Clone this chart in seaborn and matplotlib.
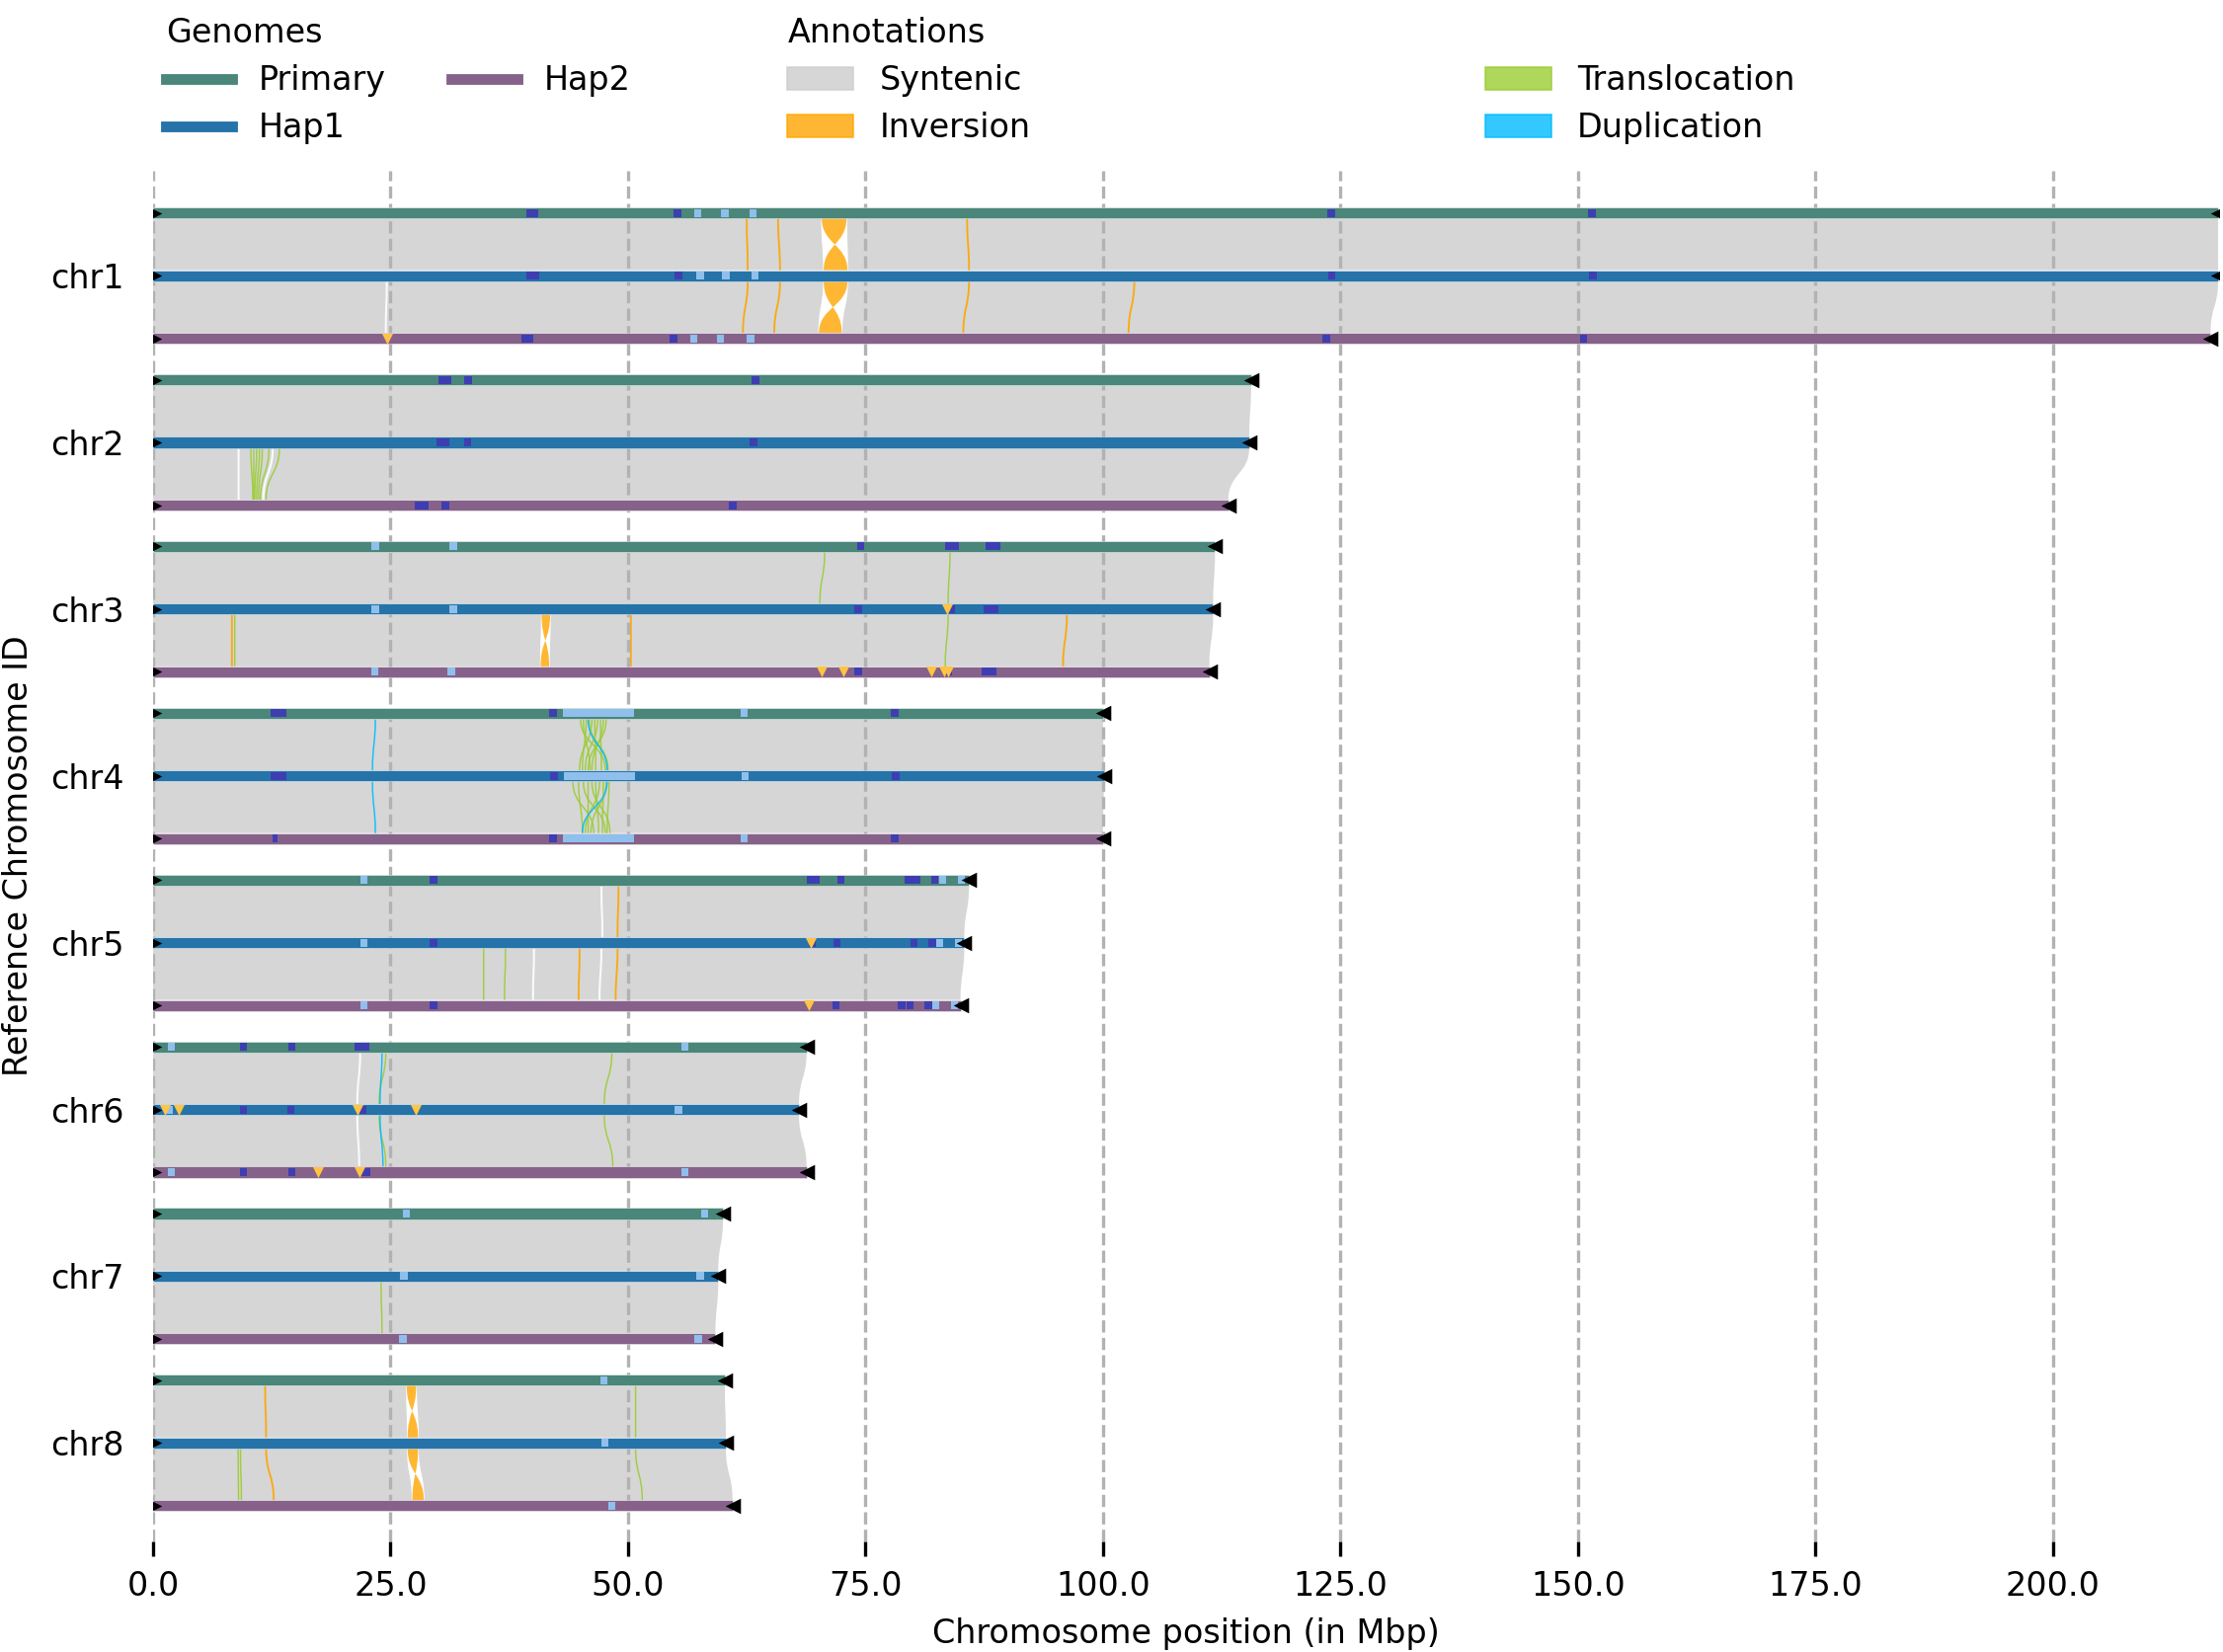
import matplotlib
matplotlib.use('Agg')
import matplotlib.pyplot as plt
import seaborn as sns
from matplotlib.path import Path
from matplotlib.patches import PathPatch, Patch
from matplotlib.lines import Line2D

# ---------------- data ----------------
CHROMS = ['chr1', 'chr2', 'chr3', 'chr4', 'chr5', 'chr6', 'chr7', 'chr8']
GENOMES = ['Primary', 'Hap1', 'Hap2']
GENOME_COLORS = ['#4A867A', '#2573A8', '#86628A']

# chromosome lengths (Mbp)
LEN_PRIMARY = [217.4, 115.6, 111.8, 100.0, 85.9, 68.8, 60.0, 60.2]
LEN_HAP1 = [217.4, 115.4, 111.6, 100.1, 85.4, 68.0, 59.5, 60.3]
LEN_HAP2 = [216.6, 113.2, 111.2, 100.0, 85.0, 68.8, 59.2, 61.0]

ANN_LABELS = ['Syntenic', 'Inversion', 'Translocation', 'Duplication']
ANN_COLORS = ['#CCCCCC', '#FFA500', '#9ACD32', '#00BBFF']

# large inversions: (chrom, pair, top_start, top_end, bottom_start, bottom_end)
# pair 0 = Primary->Hap1, pair 1 = Hap1->Hap2
INVERSIONS = [
    ('chr1', 0, 70.4, 73.0, 70.6, 73.1),
    ('chr1', 1, 70.6, 73.1, 70.1, 72.5),
    ('chr3', 1, 40.9, 41.8, 40.8, 41.7),
    ('chr8', 0, 26.7, 27.7, 26.8, 27.9),
    ('chr8', 1, 26.8, 27.9, 27.3, 28.5),
]
# small inversions (thin): (chrom, pair, top_pos, bottom_pos)
SMALL_INVERSIONS = [
    ('chr1', 0, 62.5, 62.6), ('chr1', 0, 65.8, 66.0), ('chr1', 0, 85.7, 85.9),
    ('chr1', 1, 62.6, 62.1), ('chr1', 1, 66.0, 65.4), ('chr1', 1, 85.9, 85.3),
    ('chr1', 1, 103.3, 102.7),
    ('chr3', 1, 8.3, 8.3), ('chr3', 1, 50.3, 50.3), ('chr3', 1, 96.2, 95.8),
    ('chr5', 0, 49.0, 48.9), ('chr5', 1, 44.9, 44.8), ('chr5', 1, 48.9, 48.7),
    ('chr8', 0, 11.8, 11.9), ('chr8', 1, 11.9, 12.7),
]
# translocations (thin): (chrom, pair, top_pos, bottom_pos)
TRANSLOCATIONS = [
    ('chr2', 1, 10.3, 10.5), ('chr2', 1, 10.6, 10.6), ('chr2', 1, 10.9, 10.7),
    ('chr2', 1, 11.2, 10.9), ('chr2', 1, 11.5, 11.1), ('chr2', 1, 12.2, 11.3),
    ('chr2', 1, 13.3, 11.9),
    ('chr3', 0, 70.7, 70.2), ('chr3', 0, 83.9, 83.7), ('chr3', 1, 83.7, 83.4),
    ('chr3', 1, 8.6, 8.6),
    ('chr4', 0, 45.0, 47.6), ('chr4', 0, 45.3, 46.0), ('chr4', 0, 45.6, 45.2),
    ('chr4', 0, 45.9, 47.9), ('chr4', 0, 46.2, 44.9), ('chr4', 0, 46.5, 46.6),
    ('chr4', 0, 46.8, 45.5), ('chr4', 0, 47.1, 47.2), ('chr4', 0, 47.4, 46.2),
    ('chr4', 0, 47.7, 45.8),
    ('chr4', 1, 44.2, 46.4), ('chr4', 1, 44.8, 45.2), ('chr4', 1, 45.3, 47.6),
    ('chr4', 1, 45.8, 45.8), ('chr4', 1, 46.2, 48.1), ('chr4', 1, 46.6, 46.9),
    ('chr4', 1, 47.0, 45.5), ('chr4', 1, 47.4, 47.3), ('chr4', 1, 47.7, 46.1),
    ('chr4', 1, 48.0, 47.8),
    ('chr5', 1, 34.8, 34.8), ('chr5', 1, 37.1, 37.0),
    ('chr6', 0, 24.5, 23.8), ('chr6', 0, 48.3, 47.5),
    ('chr6', 1, 23.8, 24.5), ('chr6', 1, 47.5, 48.4),
    ('chr7', 1, 24.0, 24.1),
    ('chr8', 1, 8.95, 9.0), ('chr8', 1, 9.2, 9.3),
    ('chr8', 0, 50.8, 50.8), ('chr8', 1, 50.8, 51.5),
]
# duplications (thin): (chrom, pair, top_pos, bottom_pos)
DUPLICATIONS = [
    ('chr4', 0, 23.4, 23.1), ('chr4', 1, 23.1, 23.4),
    ('chr4', 0, 45.8, 47.8), ('chr4', 1, 47.8, 45.2),
    ('chr6', 0, 24.1, 23.9), ('chr6', 1, 23.9, 24.2),
]
# non-syntenic gaps (thin white): (chrom, pair, top_pos, bottom_pos)
GAPS = [
    ('chr1', 1, 24.6, 24.5), ('chr2', 1, 9.0, 9.0), ('chr2', 1, 12.6, 11.6),
    ('chr5', 0, 47.2, 47.3), ('chr5', 1, 40.1, 40.0), ('chr5', 1, 47.2, 47.0),
    ('chr6', 0, 21.8, 21.5), ('chr6', 1, 21.5, 21.7),
]

# markers on genomes: (chrom, centre Mbp, width Mbp)
DARK_PRIMARY = [('chr1', 39.9, 1.3), ('chr1', 55.2, 0.8), ('chr1', 124.0, 0.8), ('chr1', 151.5, 0.8),
                ('chr2', 30.7, 1.4), ('chr2', 33.2, 0.8), ('chr2', 63.4, 0.8),
                ('chr3', 74.5, 0.8), ('chr3', 84.1, 1.4), ('chr3', 88.4, 1.6),
                ('chr4', 13.2, 1.6), ('chr4', 42.1, 0.8), ('chr4', 78.1, 0.8),
                ('chr5', 29.5, 0.8), ('chr5', 69.5, 1.3), ('chr5', 72.4, 0.8), ('chr5', 79.5, 0.8),
                ('chr5', 80.4, 0.8), ('chr5', 82.3, 0.8),
                ('chr6', 9.5, 0.8), ('chr6', 14.6, 0.8), ('chr6', 22.0, 1.6)]
DARK_HAP1 = [('chr1', 40.0, 1.3), ('chr1', 55.3, 0.8), ('chr1', 124.1, 0.8), ('chr1', 151.6, 0.8),
             ('chr2', 30.5, 1.4), ('chr2', 33.1, 0.8), ('chr2', 63.2, 0.8),
             ('chr3', 74.2, 0.8), ('chr3', 84.0, 0.8), ('chr3', 88.2, 1.6),
             ('chr4', 13.2, 1.6), ('chr4', 42.2, 0.8), ('chr4', 78.2, 0.8),
             ('chr5', 29.5, 0.8), ('chr5', 69.4, 0.8), ('chr5', 72.0, 0.8), ('chr5', 80.1, 0.8),
             ('chr5', 82.0, 0.8),
             ('chr6', 9.5, 0.8), ('chr6', 14.5, 0.8), ('chr6', 22.1, 0.8)]
DARK_HAP2 = [('chr1', 39.4, 1.3), ('chr1', 54.8, 0.8), ('chr1', 123.5, 0.8), ('chr1', 150.6, 0.8),
             ('chr2', 28.3, 1.4), ('chr2', 30.8, 0.8), ('chr2', 61.0, 0.8),
             ('chr3', 74.2, 0.8), ('chr3', 83.7, 0.8), ('chr3', 88.0, 1.6),
             ('chr4', 12.8, 0.5), ('chr4', 42.1, 0.8), ('chr4', 78.1, 0.8),
             ('chr5', 29.5, 0.8), ('chr5', 71.9, 0.8), ('chr5', 78.8, 0.8), ('chr5', 79.7, 0.8),
             ('chr5', 81.6, 0.8),
             ('chr6', 9.5, 0.8), ('chr6', 14.6, 0.8), ('chr6', 22.3, 1.2)]
LIGHT_PRIMARY = [('chr1', 57.3, 0.75), ('chr1', 60.2, 0.75), ('chr1', 63.2, 0.75),
                 ('chr3', 23.4, 0.75), ('chr3', 31.6, 0.75),
                 ('chr4', 46.85, 7.5), ('chr4', 62.2, 0.75),
                 ('chr5', 22.2, 0.75), ('chr5', 83.1, 0.75), ('chr5', 85.1, 0.75),
                 ('chr6', 1.9, 0.75), ('chr6', 56.0, 0.75),
                 ('chr7', 26.7, 0.75), ('chr7', 58.1, 0.75), ('chr8', 47.5, 0.75)]
LIGHT_HAP1 = [('chr1', 57.6, 0.75), ('chr1', 60.3, 0.75), ('chr1', 63.4, 0.75),
              ('chr3', 23.4, 0.75), ('chr3', 31.6, 0.75),
              ('chr4', 47.0, 7.4), ('chr4', 62.3, 0.75),
              ('chr5', 22.2, 0.75), ('chr5', 82.8, 0.75), ('chr5', 84.8, 0.75),
              ('chr6', 1.7, 0.75), ('chr6', 55.3, 0.75),
              ('chr7', 26.4, 0.75), ('chr7', 57.6, 0.75), ('chr8', 47.6, 0.75)]
LIGHT_HAP2 = [('chr1', 56.9, 0.75), ('chr1', 59.7, 0.75), ('chr1', 62.9, 0.75),
              ('chr3', 23.3, 0.75), ('chr3', 31.4, 0.75),
              ('chr4', 46.85, 7.5), ('chr4', 62.2, 0.75),
              ('chr5', 22.2, 0.75), ('chr5', 82.4, 0.75), ('chr5', 84.4, 0.75),
              ('chr6', 1.9, 0.75), ('chr6', 56.0, 0.75),
              ('chr7', 26.3, 0.75), ('chr7', 57.4, 0.75), ('chr8', 48.3, 0.75)]
# orange triangle markers: (chrom, position)
TRI_PRIMARY = []
TRI_HAP1 = [('chr3', 83.6), ('chr5', 69.2), ('chr6', 1.2), ('chr6', 2.7), ('chr6', 21.5), ('chr6', 27.7)]
TRI_HAP2 = [('chr1', 24.6), ('chr3', 70.4), ('chr3', 72.7), ('chr3', 81.9), ('chr3', 83.3),
            ('chr3', 83.7), ('chr5', 69.0), ('chr6', 17.4), ('chr6', 21.7)]

X_TICKS = [0, 25, 50, 75, 100, 125, 150, 175, 200]

# ---------------- layout ----------------
W, H, DPI = 2251, 1673, 300
CHR_STEP = 2.66      # vertical distance between chromosome blocks (genome spacing = 1)
BAR_H = 0.175
DARK_COL = '#3E3EB2'
LIGHT_COL = '#8FBFEC'
TRI_COL = '#FFC445'

LENGTHS = [LEN_PRIMARY, LEN_HAP1, LEN_HAP2]
DARKS = [DARK_PRIMARY, DARK_HAP1, DARK_HAP2]
LIGHTS = [LIGHT_PRIMARY, LIGHT_HAP1, LIGHT_HAP2]
TRIS = [TRI_PRIMARY, TRI_HAP1, TRI_HAP2]

fig = plt.figure(figsize=(W / DPI, H / DPI), dpi=DPI)
ax = fig.add_axes([155 / W, 1 - 1561 / H, (2247 - 155) / W, (1561 - 173) / H])
plt.rcParams['font.family'] = ['DejaVu Sans']


def ypos(ci, gi):
    return ci * CHR_STEP + gi


def ribbon(xa1, xa2, xb1, xb2, y1, y2, **kw):
    ym = (y1 + y2) / 2
    verts = [(xa1, y1), (xa2, y1), (xa2, ym), (xb2, ym), (xb2, y2),
             (xb1, y2), (xb1, ym), (xa1, ym), (xa1, y1), (xa1, y1)]
    codes = [Path.MOVETO, Path.LINETO, Path.CURVE4, Path.CURVE4, Path.CURVE4,
             Path.LINETO, Path.CURVE4, Path.CURVE4, Path.CURVE4, Path.CLOSEPOLY]
    ax.add_patch(PathPatch(Path(verts, codes), **kw))


def thin(xa, xb, y1, y2, color, lw=0.45, z=1.3):
    ym = (y1 + y2) / 2
    verts = [(xa, y1), (xa, ym), (xb, ym), (xb, y2)]
    codes = [Path.MOVETO, Path.CURVE4, Path.CURVE4, Path.CURVE4]
    ax.add_patch(PathPatch(Path(verts, codes), fill=False, edgecolor=color, lw=lw,
                           alpha=0.9, zorder=z))


def pair_y(chrom, pair):
    ci = CHROMS.index(chrom)
    return ypos(ci, pair) + BAR_H / 2, ypos(ci, pair + 1) - BAR_H / 2


# syntenic background
for ci, c in enumerate(CHROMS):
    for p in range(2):
        y1, y2 = pair_y(c, p)
        ribbon(0, LENGTHS[p][ci], 0, LENGTHS[p + 1][ci], y1, y2,
               facecolor=ANN_COLORS[0], edgecolor='none', alpha=0.8, zorder=1)

for c, p, a, b in GAPS:
    y1, y2 = pair_y(c, p)
    thin(a, b, y1, y2, 'white', lw=0.5, z=1.1)

for c, p, rs, re, qs, qe in INVERSIONS:
    y1, y2 = pair_y(c, p)
    ribbon(rs, re, qs, qe, y1, y2, facecolor='white', edgecolor='white', lw=0.3, zorder=1.1)
    ribbon(rs, re, qe, qs, y1, y2, facecolor=ANN_COLORS[1], edgecolor='none', alpha=0.8, zorder=1.2)

for c, p, a, b in SMALL_INVERSIONS:
    y1, y2 = pair_y(c, p)
    thin(a, b, y1, y2, ANN_COLORS[1])
for c, p, a, b in TRANSLOCATIONS:
    y1, y2 = pair_y(c, p)
    thin(a, b, y1, y2, ANN_COLORS[2], lw=0.35)
for c, p, a, b in DUPLICATIONS:
    y1, y2 = pair_y(c, p)
    thin(a, b, y1, y2, ANN_COLORS[3], lw=0.35)

# grid lines
for t in X_TICKS:
    ax.axvline(t, color='#b2b2b2', ls='--', lw=0.8, zorder=1.5)

# chromosome bars
for gi in range(3):
    ys = [ypos(ci, gi) for ci in range(len(CHROMS))]
    ax.barh(ys, LENGTHS[gi], left=0, height=BAR_H, color=GENOME_COLORS[gi],
            edgecolor=(1, 1, 1, 0.45), linewidth=0.25, zorder=2)

# interval markers
for gi in range(3):
    for marks, col in ((DARKS[gi], DARK_COL), (LIGHTS[gi], LIGHT_COL)):
        if not marks:
            continue
        ys = [ypos(CHROMS.index(m[0]), gi) for m in marks]
        lefts = [m[1] - m[2] / 2 for m in marks]
        widths = [m[2] for m in marks]
        ax.barh(ys, widths, left=lefts, height=BAR_H * 0.72, color=col,
                edgecolor='none', zorder=3)

# triangle markers
for gi in range(3):
    if TRIS[gi]:
        sns.scatterplot(x=[t[1] for t in TRIS[gi]],
                        y=[ypos(CHROMS.index(t[0]), gi) for t in TRIS[gi]],
                        marker='v', s=7, color=TRI_COL, linewidth=0, ax=ax, zorder=4)
    ys = [ypos(ci, gi) for ci in range(len(CHROMS))]
    sns.scatterplot(x=[0] * len(CHROMS), y=ys, marker='>', s=18, color='black',
                    linewidth=0, ax=ax, zorder=5)
    sns.scatterplot(x=LENGTHS[gi], y=ys, marker='<', s=14, color='black',
                    linewidth=0, ax=ax, zorder=5)

# axes
ax.set_xlim(0, 217.5)
ax.set_ylim(21.19, -0.672)
ax.set_xticks(X_TICKS)
ax.set_xticklabels([f'{t:.1f}' for t in X_TICKS], fontsize=8)
ax.set_yticks([ypos(ci, 1) for ci in range(len(CHROMS))])
ax.set_yticklabels(CHROMS, fontsize=8)
ax.tick_params(axis='y', length=0, pad=7)
ax.tick_params(axis='x', length=3.5, width=0.8, color='black')
for s in ax.spines.values():
    s.set_visible(False)
ax.set_xlabel('Chromosome position (in Mbp)', fontsize=8, labelpad=3.5)
ax.set_ylabel('Reference Chromosome ID', fontsize=8)

# legends
g_handles = [Line2D([0], [0], color=c, lw=2.6) for c in GENOME_COLORS]
leg1 = ax.legend(g_handles, GENOMES, title='Genomes', ncol=2, frameon=False,
                 loc='lower left', bbox_to_anchor=(0, 1.0095), borderaxespad=0,
                 fontsize=8, title_fontsize=8, alignment='left', labelspacing=0.45)
ax.add_artist(leg1)
a_handles = [Patch(facecolor=c, edgecolor=c, alpha=0.8, lw=0.4) for c in ANN_COLORS]
ax.legend(a_handles, ANN_LABELS, title='Annotations', ncol=2, frameon=False,
          loc='lower left', bbox_to_anchor=(0.3007, 1.0095), borderaxespad=0,
          fontsize=8, title_fontsize=8, alignment='left', columnspacing=13.8,
          labelspacing=0.45)

fig.savefig('out.png', dpi=DPI)
